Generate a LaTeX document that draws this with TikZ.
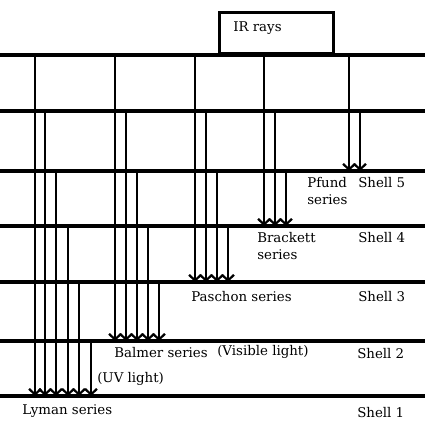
\documentclass[tikz,border=0pt]{standalone}
\usepackage{fontspec}
\setmainfont{DejaVu Serif}
\usepackage{tikz}
\usetikzlibrary{arrows.meta}
\usetikzlibrary{positioning}

\tikzset{
    shell/.style={line width=2.2pt},
    emit/.style={line width=1.6pt, -{Straight Barb[length=4pt,width=8.5pt]}},
    lbl/.style={anchor=base west, inner sep=0pt, font=\fontsize{9.5}{11}\selectfont},
    irbox/.style={draw, line width=2pt, anchor=south west, inner sep=0pt,
                  minimum width=2.85cm, minimum height=1.025cm},
}

\begin{document}
\begin{tikzpicture}[x=0.025cm, y=-0.025cm]
    \useasboundingbox (0,0) rectangle (425,425);

    % energy levels
    \foreach \n/\y in {1/396, 2/341, 3/282, 4/226, 5/171, 6/111, 7/55} {
        \coordinate (L\n) at (0,\y);
        \coordinate (R\n) at (425,\y);
        \draw[shell] (L\n) -- (R\n);
    }

    \node[irbox] (ir) at (218,55) {};
    \node[lbl] (irtext) at (233,32) {IR rays};

    % transitions
    \foreach \x/\n in {35/7, 45/6, 56/5, 68/4, 79/3, 91/2}
        \draw[emit] (\x,0 |- L\n) -- (\x,0 |- L1);   % Lyman
    \foreach \x/\n in {115/7, 126/6, 137/5, 148/4, 159/3}
        \draw[emit] (\x,0 |- L\n) -- (\x,0 |- L2);   % Balmer
    \foreach \x/\n in {195/7, 206/6, 217/5, 228/4}
        \draw[emit] (\x,0 |- L\n) -- (\x,0 |- L3);   % Paschen
    \foreach \x/\n in {264/7, 275/6, 286/5}
        \draw[emit] (\x,0 |- L\n) -- (\x,0 |- L4);   % Brackett
    \foreach \x/\n in {349/7, 360/6}
        \draw[emit] (\x,0 |- L\n) -- (\x,0 |- L5);   % Pfund

    % labels
    \node[lbl] (pfund) at (307,188) {Pfund};
    \node[lbl] (pfunds) at (307,205) {series};
    \node[lbl] (brack) at (257,242) {Brackett};
    \node[lbl] (bracks) at (257,259) {series};
    \node[lbl] (pasch) at (191,301) {Paschon series};
    \node[lbl] (balm) at (114,357) {Balmer series};
    \node[lbl] (vis) at (217,355) {(Visible light)};
    \node[lbl] (uv) at (97,382) {(UV light)};
    \node[lbl] (lyman) at (22,414) {Lyman series};

    \node[lbl] (sh5) at (358,188) {Shell 5};
    \node[lbl] (sh4) at (358,242) {Shell 4};
    \node[lbl] (sh3) at (358,301) {Shell 3};
    \node[lbl] (sh2) at (357,358) {Shell 2};
    \node[lbl] (sh1) at (357,417) {Shell 1};
\end{tikzpicture}
\end{document}
